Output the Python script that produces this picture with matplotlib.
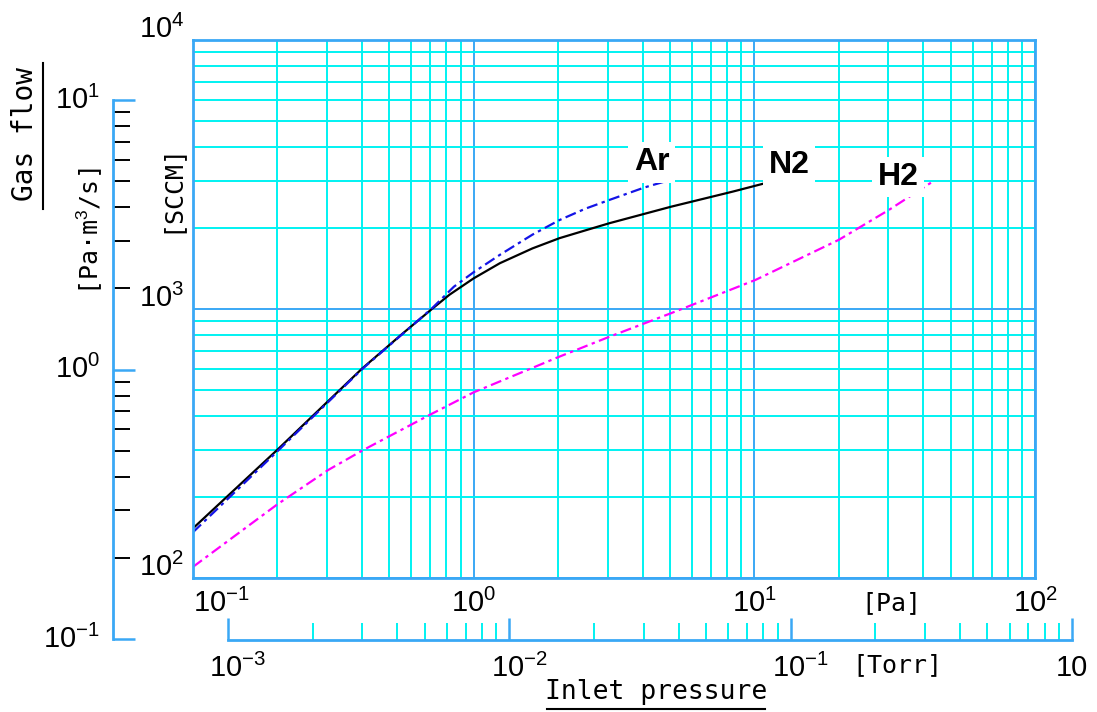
import matplotlib
matplotlib.use('Agg')
import matplotlib.pyplot as plt
from matplotlib.lines import Line2D
from matplotlib.transforms import offset_copy

# расход газа [SCCM] в зависимости от давления на входе [Pa]
n2_p = [0.1, 0.2, 0.4, 0.558, 0.71, 0.82, 1.0, 1.24, 1.62, 2.02, 2.5, 3.05, 5.04, 8.36, 11.7]
n2_f = [153, 300, 600, 810, 1000, 1130, 1300, 1480, 1680, 1833, 1960, 2085, 2399, 2730, 2990]

ar_p = [0.1, 0.2, 0.4, 0.71, 0.85, 1.0, 1.24, 1.62, 2.02, 2.5, 3.05, 4.06, 4.91]
ar_f = [148, 296, 597, 1005, 1210, 1370, 1590, 1890, 2140, 2360, 2545, 2830, 2999]

h2_p = [0.1, 0.2, 0.303, 0.404, 0.697, 1.0, 2.02, 3.05, 5.04, 10.1, 20.0, 30.2, 43.7]
h2_f = [110, 188, 252, 299, 404, 490, 665, 789, 964, 1283, 1808, 2337, 2999]

gas_names = ['Ar', 'N2', 'H2']
gas_label_p = [4.3, 13.3, 32.5]
gas_label_f = [3517, 3428, 3097]

pa_ticks = [0.1, 1, 10, 100]
pa_labels = ['$10^{-1}$', '$10^{0}$', '$10^{1}$', '$10^{2}$']
sccm_ticks = [100, 1000, 10000]
sccm_labels = ['$10^{2}$', '$10^{3}$', '$10^{4}$']
pam_ticks = [0.1, 1, 10]
pam_labels = ['$10^{-1}$', '$10^{0}$', '$10^{1}$']
torr_ticks = [1e-3, 1e-2, 1e-1, 1]
torr_labels = ['$10^{-3}$', '$10^{-2}$', '$10^{-1}$', '10']

num_font = 'Liberation Sans'
mono_font = 'DejaVu Sans Mono'
plt.rcParams['mathtext.fontset'] = 'custom'
plt.rcParams['mathtext.rm'] = 'Liberation Sans'
plt.rcParams['mathtext.it'] = 'Liberation Sans:italic'
plt.rcParams['mathtext.bf'] = 'Liberation Sans:bold'

blue = '#3aa8f5'
cyan = '#00f2f2'
num_size = 21

W, H = 1097, 712
fig = plt.figure(figsize=(W / 100, H / 100), dpi=100)


def box(x0, y0, x1, y1):
    # пиксели -> доли фигуры
    return [x0 / W, 1 - y1 / H, (x1 - x0) / W, (y1 - y0) / H]


# Основной график
ax = fig.add_axes(box(193, 40, 1035, 578))
ax.set_xscale('log')
ax.set_yscale('log')
ax.set_xlim(0.1, 100)
ax.set_ylim(100, 1e4)
ax.set_axisbelow(True)
ax.grid(which='minor', color=cyan, lw=1.4)
ax.grid(which='major', color=blue, lw=1.4)
for s in ax.spines.values():
    s.set_color(blue)
    s.set_linewidth(2)
ax.tick_params(which='both', length=0, labelbottom=False, labelleft=False)

ax.plot(n2_p, n2_f, color='black', lw=1.6)
ax.plot(ar_p, ar_f, color='#1414e6', lw=1.6, ls=(0, (5, 2, 1.5, 2)))
ax.plot(h2_p, h2_f, color='#ff00ff', lw=1.6, ls=(0, (5, 2, 1.5, 2)))

for name, px, fy in zip(gas_names, gas_label_p, gas_label_f):
    ax.text(px, fy, name, fontsize=23, fontweight='bold', family=num_font,
            ha='center', va='center',
            bbox=dict(fc='white', ec='none', pad=4))

tr = offset_copy(ax.get_xaxis_transform(), fig=fig, y=-25, units='dots')
for i, (t, lab) in enumerate(zip(pa_ticks, pa_labels)):
    ax.text(t, 0, lab, transform=tr, fontsize=num_size, family=num_font,
            ha='left' if i == 0 else 'center', va='center')

tr = offset_copy(ax.get_yaxis_transform(), fig=fig, x=-9, y=11, units='dots')
for t, lab in zip(sccm_ticks, sccm_labels):
    ax.text(0, t, lab, transform=tr, fontsize=num_size, family=num_font,
            ha='right', va='center')

# Шкала Pa·m3/s слева
ax2 = fig.add_axes(box(113, 100, 140, 639))
ax2.set_yscale('log')
ax2.set_ylim(0.1, 10)
ax2.patch.set_visible(False)
for k in ['top', 'right', 'bottom']:
    ax2.spines[k].set_visible(False)
ax2.spines['left'].set_color(blue)
ax2.spines['left'].set_linewidth(2)
ax2.set_xticks([])
ax2.tick_params(axis='y', which='major', direction='in', length=16, width=1.8,
                color=blue, labelleft=False)
ax2.tick_params(axis='y', which='minor', direction='in', length=12, width=1.4,
                color='black', labelleft=False)
tr = offset_copy(ax2.get_yaxis_transform(), fig=fig, x=-13, units='dots')
for t, lab in zip(pam_ticks, pam_labels):
    ax2.text(0, t, lab, transform=tr, fontsize=num_size, family=num_font,
             ha='right', va='center')

# Шкала Torr снизу
ax3 = fig.add_axes(box(228, 630, 1072, 640))
ax3.set_xscale('log')
ax3.set_xlim(1e-3, 1)
ax3.patch.set_visible(False)
for k in ['top', 'right', 'left']:
    ax3.spines[k].set_visible(False)
ax3.spines['bottom'].set_color(blue)
ax3.spines['bottom'].set_linewidth(2)
ax3.set_yticks([])
ax3.tick_params(axis='x', which='major', direction='in', length=16, width=1.8,
                color=blue, labelbottom=False)
ax3.tick_params(axis='x', which='minor', direction='in', length=12, width=1.4,
                color=cyan, labelbottom=False)
for i, (t, lab) in enumerate(zip(torr_ticks, torr_labels)):
    dx = 10 if i < len(torr_ticks) - 1 else 0
    tr = offset_copy(ax3.get_xaxis_transform(), fig=fig, x=dx, y=-28, units='dots')
    ax3.text(t, 0, lab, transform=tr, fontsize=num_size, family=num_font,
             ha='center', va='center')

# Подписи осей
fig.text(25 / W, 1 - 134 / H, 'Gas flow', rotation=90, family=mono_font,
         fontsize=20, ha='center', va='center')
fig.add_artist(Line2D([43 / W, 43 / W], [1 - 63 / H, 1 - 209 / H],
                      transform=fig.transFigure, color='black', lw=1.5))
fig.text(90 / W, 1 - 231 / H, '[Pa·m$^3$/s]', rotation=90, family=mono_font,
         fontsize=18, ha='center', va='center')
fig.text(170 / W, 1 - 188 / H, '[SCCM]', rotation=90, family=mono_font,
         fontsize=18, ha='center', va='center')
fig.text(891 / W, 1 - 603 / H, '[Pa]', family=mono_font,
         fontsize=18, ha='center', va='center')
fig.text(897 / W, 1 - 665 / H, '[Torr]', family=mono_font,
         fontsize=18, ha='center', va='center')
fig.text(656 / W, 1 - 692 / H, 'Inlet pressure', family=mono_font,
         fontsize=19, ha='center', va='center')
fig.add_artist(Line2D([547 / W, 765 / W], [1 - 709 / H, 1 - 709 / H],
                      transform=fig.transFigure, color='black', lw=1.5))

fig.savefig('out.png', dpi=100)
